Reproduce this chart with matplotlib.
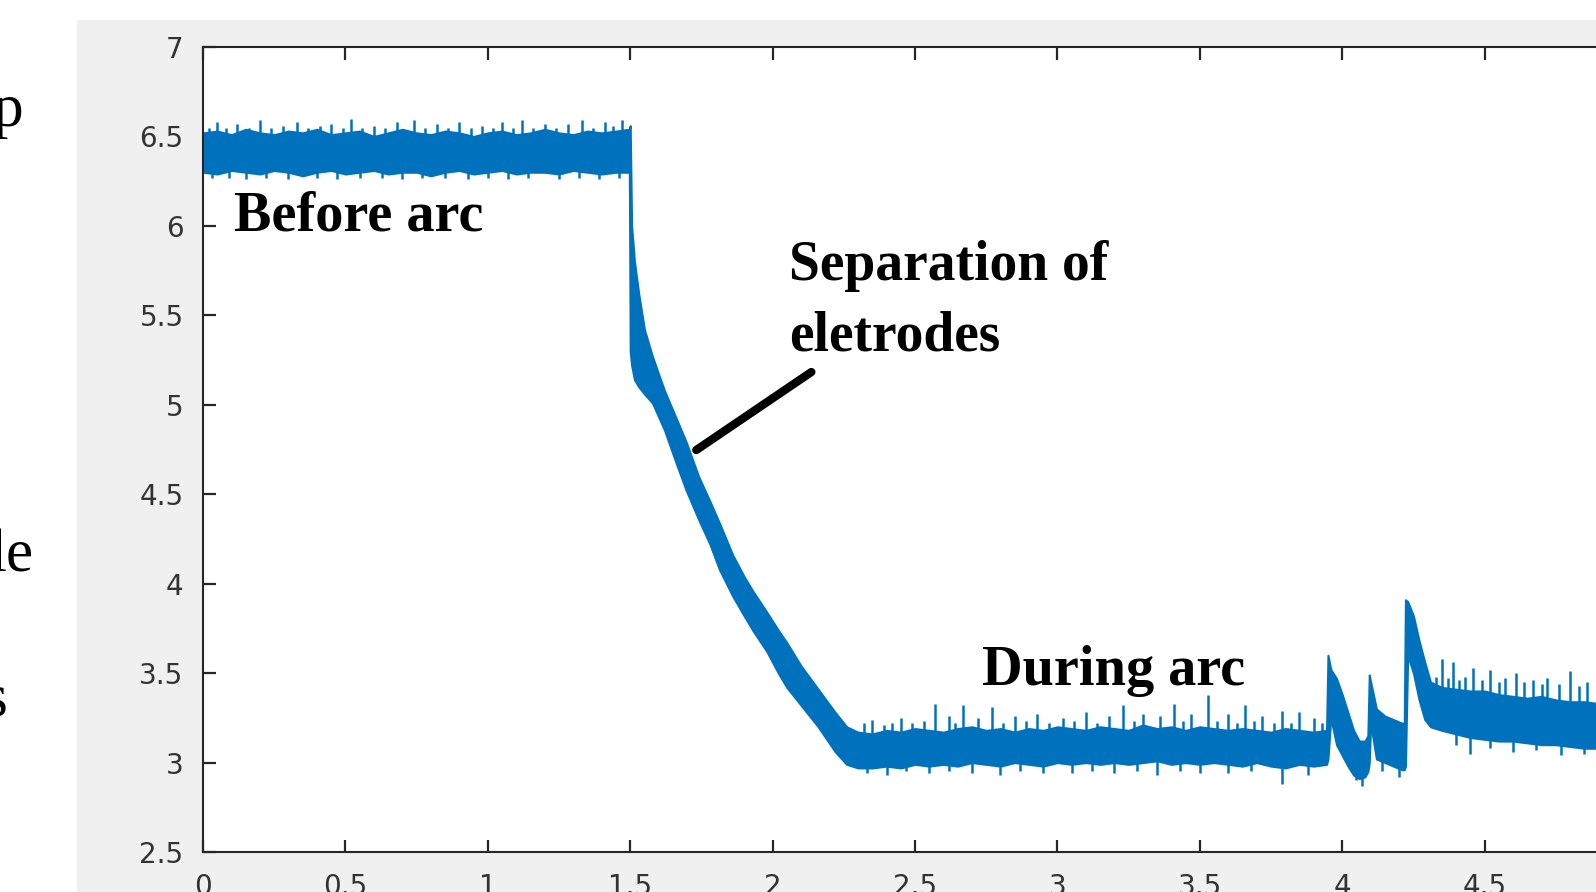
import numpy as np
import matplotlib
matplotlib.use("Agg")
import matplotlib.pyplot as plt
from matplotlib.patches import Rectangle

# ---------------- data ----------------
# envelope of the noisy voltage trace: time, lower edge, upper edge
env_t = [0.00, 0.05, 0.10, 0.15, 0.20, 0.25, 0.30, 0.35, 0.40, 0.45, 0.50,
         0.55, 0.60, 0.65, 0.70, 0.75, 0.80, 0.85, 0.90, 0.95, 1.00, 1.05,
         1.10, 1.15, 1.20, 1.25, 1.30, 1.35, 1.40, 1.45, 1.497,
         1.500, 1.505, 1.515, 1.53, 1.55, 1.578, 1.62, 1.66, 1.697, 1.74,
         1.78, 1.813, 1.86, 1.90, 1.93, 1.98, 2.02, 2.05, 2.10, 2.16, 2.22,
         2.26, 2.30,
         2.35, 2.40, 2.45, 2.50, 2.55, 2.60, 2.65, 2.70, 2.75, 2.80, 2.85,
         2.90, 2.95, 3.00, 3.05, 3.10, 3.15, 3.20, 3.25, 3.30, 3.35, 3.40,
         3.45, 3.50, 3.55, 3.60, 3.65, 3.70, 3.75, 3.80, 3.85, 3.90, 3.945,
         3.950, 3.96, 3.98, 4.00, 4.02, 4.04, 4.06, 4.08, 4.09,
         4.095, 4.10, 4.12, 4.15, 4.18, 4.21, 4.218,
         4.222, 4.23, 4.25, 4.27, 4.29, 4.31,
         4.35, 4.40, 4.45, 4.50, 4.55, 4.60, 4.65, 4.70, 4.75, 4.80, 4.85,
         4.90, 4.95, 5.00]
env_hi = [6.52, 6.53, 6.51, 6.54, 6.52, 6.51, 6.53, 6.52, 6.54, 6.51, 6.52,
          6.53, 6.50, 6.52, 6.54, 6.52, 6.51, 6.53, 6.52, 6.50, 6.52, 6.53,
          6.51, 6.52, 6.54, 6.52, 6.51, 6.53, 6.52, 6.53, 6.54,
          6.56, 6.00, 5.80, 5.62, 5.42, 5.27, 5.08, 4.93, 4.79, 4.60,
          4.46, 4.34, 4.16, 4.04, 3.96, 3.84, 3.74, 3.67, 3.54, 3.41, 3.28,
          3.20, 3.17,
          3.16, 3.18, 3.17, 3.19, 3.18, 3.17, 3.19, 3.20, 3.18, 3.19, 3.17,
          3.19, 3.18, 3.20, 3.19, 3.18, 3.20, 3.19, 3.18, 3.21, 3.19, 3.20,
          3.18, 3.20, 3.19, 3.18, 3.19, 3.18, 3.17, 3.19, 3.18, 3.17, 3.18,
          3.60, 3.52, 3.47, 3.38, 3.28, 3.18, 3.12, 3.12, 3.15,
          3.49, 3.45, 3.30, 3.26, 3.24, 3.22, 3.22,
          3.91, 3.90, 3.82, 3.68, 3.56, 3.45,
          3.42, 3.41, 3.40, 3.40, 3.38, 3.37, 3.36, 3.37, 3.35, 3.34, 3.34,
          3.33, 3.32, 3.32]
env_lo = [6.30, 6.29, 6.31, 6.30, 6.29, 6.31, 6.30, 6.28, 6.30, 6.31, 6.29,
          6.30, 6.31, 6.29, 6.30, 6.30, 6.28, 6.30, 6.31, 6.29, 6.30, 6.31,
          6.29, 6.30, 6.30, 6.29, 6.31, 6.30, 6.29, 6.30, 6.30,
          5.30, 5.22, 5.14, 5.10, 5.06, 5.01, 4.86, 4.68, 4.52, 4.36,
          4.22, 4.08, 3.93, 3.82, 3.74, 3.62, 3.50, 3.42, 3.32, 3.20, 3.06,
          2.99, 2.97,
          2.97, 2.98, 2.97, 2.99, 2.98, 2.99, 2.98, 3.00, 2.99, 2.98, 3.00,
          2.99, 2.98, 3.00, 2.99, 3.00, 2.99, 3.00, 2.99, 3.00, 3.01, 2.99,
          3.00, 2.99, 3.00, 2.99, 2.98, 3.00, 2.98, 2.97, 2.99, 2.98, 2.99,
          3.02, 3.25, 3.10, 3.04, 2.98, 2.93, 2.91, 2.92, 2.95,
          3.00, 3.22, 3.02, 3.00, 2.98, 2.96, 2.96,
          2.98, 3.60, 3.50, 3.35, 3.24, 3.20,
          3.18, 3.16, 3.14, 3.13, 3.12, 3.12, 3.11, 3.10, 3.10, 3.09, 3.08,
          3.08, 3.08, 3.07]

# noise peaks sticking out of the band: time, peak value
spike_t = [0.02, 0.05, 0.08, 0.12, 0.16, 0.20, 0.24, 0.28, 0.33, 0.37, 0.41,
           0.45, 0.49, 0.52, 0.56, 0.60, 0.64, 0.68, 0.74, 0.78, 0.82, 0.86,
           0.90, 0.94, 0.98, 1.02, 1.05, 1.09, 1.12, 1.16, 1.20, 1.24, 1.28,
           1.33, 1.37, 1.41, 1.44, 1.47,
           0.03, 0.09, 0.15, 0.22, 0.30, 0.40, 0.47, 0.55, 0.63, 0.70, 0.77,
           0.85, 0.93, 1.00, 1.07, 1.14, 1.25, 1.32, 1.39, 1.46,
           2.32, 2.35, 2.39, 2.42, 2.45, 2.49, 2.53, 2.57, 2.62, 2.64, 2.67,
           2.72, 2.77, 2.81, 2.85, 2.89, 2.93, 2.97, 3.02, 3.06, 3.10, 3.14,
           3.18, 3.23, 3.27, 3.30, 3.36, 3.41, 3.44, 3.47, 3.53, 3.56, 3.60,
           3.63, 3.66, 3.69, 3.72, 3.76, 3.79, 3.82, 3.85, 3.90, 3.93,
           2.33, 2.40, 2.47, 2.55, 2.62, 2.70, 2.80, 2.87, 2.95, 3.05, 3.12,
           3.20, 3.28, 3.35, 3.43, 3.50, 3.60, 3.68, 3.79, 3.88, 4.05, 4.07,
           4.14, 4.20,
           4.33, 4.35, 4.37, 4.39, 4.41, 4.43, 4.46, 4.49, 4.52, 4.55, 4.57,
           4.61, 4.64, 4.67, 4.70, 4.72, 4.76, 4.80, 4.83, 4.86, 4.90, 4.93,
           4.96,
           4.40, 4.45, 4.52, 4.60, 4.68, 4.77, 4.85, 4.92]
spike_v = [6.55, 6.58, 6.55, 6.57, 6.55, 6.59, 6.55, 6.56, 6.58, 6.55, 6.56,
           6.57, 6.55, 6.60, 6.55, 6.56, 6.55, 6.58, 6.59, 6.55, 6.57, 6.55,
           6.58, 6.55, 6.56, 6.55, 6.58, 6.55, 6.59, 6.55, 6.57, 6.55, 6.57,
           6.59, 6.55, 6.58, 6.56, 6.59,
           6.27, 6.27, 6.26, 6.27, 6.26, 6.27, 6.26, 6.27, 6.27, 6.26, 6.27,
           6.27, 6.26, 6.27, 6.26, 6.27, 6.26, 6.27, 6.26, 6.27,
           3.22, 3.24, 3.21, 3.22, 3.25, 3.22, 3.23, 3.33, 3.26, 3.22, 3.32,
           3.25, 3.31, 3.22, 3.26, 3.23, 3.27, 3.22, 3.25, 3.23, 3.28, 3.22,
           3.26, 3.32, 3.23, 3.27, 3.26, 3.33, 3.23, 3.27, 3.38, 3.23, 3.27,
           3.22, 3.32, 3.23, 3.26, 3.22, 3.29, 3.22, 3.28, 3.25, 3.22,
           2.94, 2.93, 2.95, 2.94, 2.95, 2.94, 2.93, 2.95, 2.94, 2.94, 2.95,
           2.94, 2.95, 2.93, 2.95, 2.94, 2.94, 2.95, 2.88, 2.93, 2.90, 2.87,
           2.95, 2.92,
           3.48, 3.58, 3.47, 3.56, 3.46, 3.48, 3.53, 3.46, 3.52, 3.45, 3.47,
           3.50, 3.45, 3.46, 3.44, 3.47, 3.44, 3.51, 3.43, 3.45, 3.42, 3.44,
           3.41,
           3.10, 3.05, 3.08, 3.06, 3.07, 3.04, 3.05, 3.04]

x_ticks = [0, 0.5, 1, 1.5, 2, 2.5, 3, 3.5, 4, 4.5, 5]
x_labels = ["0", "0.5", "1", "1.5", "2", "2.5", "3", "3.5", "4", "4.5", "5"]
y_ticks = [2.5, 3, 3.5, 4, 4.5, 5, 5.5, 6, 6.5, 7]
y_labels = ["2.5", "3", "3.5", "4", "4.5", "5", "5.5", "6", "6.5", "7"]

# ---------------- figure ----------------
W, H = 1596, 892
fig = plt.figure(figsize=(W / 100, H / 100), dpi=100)
fig.patch.set_facecolor("white")

# grey MATLAB figure panel (behind the axes)
panel = Rectangle((77 / W, 0), 1 - 77 / W, 1 - 20 / H,
                  transform=fig.transFigure, facecolor="#f0f0f0",
                  edgecolor="none", zorder=-10)
fig.patches.append(panel)

ax = fig.add_axes([203 / W, 1 - 852 / H, 1424 / W, 805 / H])
ax.set_zorder(1)
ax.set_facecolor("white")

blue = "#0072BD"
t = np.array(env_t)
lo = np.array(env_lo)
hi = np.array(env_hi)
ax.fill_between(t, lo, hi, color=blue, linewidth=1.5, edgecolor=blue, zorder=2)

st = np.array(spike_t)
sv = np.array(spike_v)
base = np.interp(st, t, (lo + hi) / 2)
ax.vlines(st, base, sv, color=blue, linewidth=1.8, zorder=2)

ax.set_xlim(0, 5)
ax.set_ylim(2.5, 7)
ax.set_xticks(x_ticks)
ax.set_xticklabels(x_labels)
ax.set_yticks(y_ticks)
ax.set_yticklabels(y_labels)

tick_color = "#262626"
for s in ax.spines.values():
    s.set_color(tick_color)
    s.set_linewidth(1.5)
ax.tick_params(axis="both", direction="in", length=9, width=1.6,
               color=tick_color, top=True, right=True,
               labelcolor="#333333", labelsize=20)
ax.tick_params(axis="y", pad=14)
ax.tick_params(axis="x", pad=15)
for lab in ax.get_xticklabels() + ax.get_yticklabels():
    lab.set_family("DejaVu Sans")

# annotations (Times-like bold)
serif = "Liberation Serif"
ax.text(0.109, 5.977, "Before arc", family=serif, weight="bold",
        fontsize=40.5, color="black", va="baseline", ha="left", zorder=3)
ax.text(2.059, 5.698, "Separation of", family=serif, weight="bold",
        fontsize=40, color="black", va="baseline", ha="left", zorder=3)
ax.text(2.059, 5.306, "eletrodes", family=serif, weight="bold",
        fontsize=40, color="black", va="baseline", ha="left", zorder=3)
ax.text(2.737, 3.434, "During arc", family=serif, weight="bold",
        fontsize=40.5, color="black", va="baseline", ha="left", zorder=3)
ax.annotate("", xy=(1.732, 4.747), xytext=(2.136, 5.183),
            arrowprops=dict(arrowstyle="-", color="black", lw=6,
                            capstyle="round", shrinkA=0, shrinkB=0),
            zorder=3)

# fragments of the surrounding document text on the left
fig.text(24 / W, 1 - 126 / H, "p", family=serif, fontsize=44,
         ha="right", va="baseline", color="black")
fig.text(34 / W, 1 - 572 / H, "le", family=serif, fontsize=44,
         ha="right", va="baseline", color="black")
fig.text(7 / W, 1 - 716 / H, "s", family=serif, fontsize=44,
         ha="right", va="baseline", color="black")

fig.savefig("out.png", dpi=100, facecolor=fig.get_facecolor())
